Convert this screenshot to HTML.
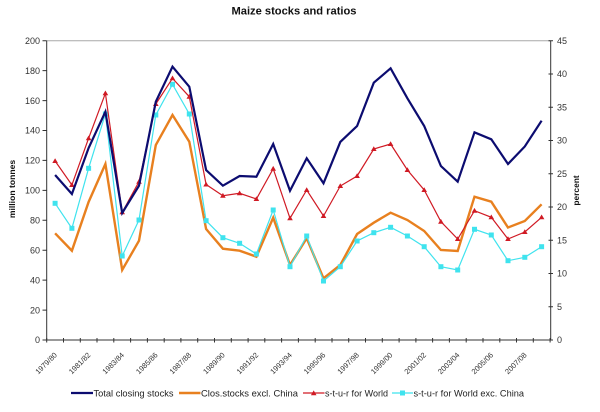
<!DOCTYPE html>
<html>
<head>
<meta charset="utf-8">
<style>
html,body{margin:0;padding:0;background:#fff;}
svg{display:block;}
text{font-family:"Liberation Sans",Arial,sans-serif;}
</style>
</head>
<body>
<svg width="600" height="412" viewBox="0 0 600 412" xmlns="http://www.w3.org/2000/svg">
<rect width="600" height="412" fill="#fff"/>
<!-- title -->
<text x="294" y="14.5" font-size="11" font-weight="bold" text-anchor="middle" fill="#111" textLength="125" lengthAdjust="spacingAndGlyphs">Maize stocks and ratios</text>

<!-- plot top border -->
<line x1="46.7" y1="40.7" x2="550.7" y2="40.7" stroke="#a8a8a8" stroke-width="1"/>

<!-- axes -->
<g stroke="#333" stroke-width="1" fill="none">
<line x1="46.7" y1="40.7" x2="46.7" y2="340"/>
<line x1="550.7" y1="40.7" x2="550.7" y2="340"/>
<line x1="46.7" y1="340" x2="550.7" y2="340"/>
<path d="M42.5 340.0H46.7M42.5 310.1H46.7M42.5 280.1H46.7M42.5 250.2H46.7M42.5 220.3H46.7M42.5 190.4H46.7M42.5 160.4H46.7M42.5 130.5H46.7M42.5 100.6H46.7M42.5 70.6H46.7M42.5 40.7H46.7"/>
<path d="M548.5 340.0H553M548.5 306.7H553M548.5 273.5H553M548.5 240.2H553M548.5 207.0H553M548.5 173.7H553M548.5 140.5H553M548.5 107.2H553M548.5 74.0H553M548.5 40.7H553"/>
<path d="M46.7 338V342.5M63.5 338V342.5M80.3 338V342.5M97.0 338V342.5M113.8 338V342.5M130.6 338V342.5M147.4 338V342.5M164.2 338V342.5M180.9 338V342.5M197.7 338V342.5M214.5 338V342.5M231.3 338V342.5M248.1 338V342.5M264.8 338V342.5M281.6 338V342.5M298.4 338V342.5M315.2 338V342.5M332.0 338V342.5M348.7 338V342.5M365.5 338V342.5M382.3 338V342.5M399.1 338V342.5M415.9 338V342.5M432.6 338V342.5M449.4 338V342.5M466.2 338V342.5M483.0 338V342.5M499.8 338V342.5M516.5 338V342.5M533.3 338V342.5M550.1 338V342.5"/>
</g>

<!-- left labels -->
<g font-size="9" fill="#333" text-anchor="end">
<text x="40" y="343.2">0</text>
<text x="40" y="313.3">20</text>
<text x="40" y="283.3">40</text>
<text x="40" y="253.4">60</text>
<text x="40" y="223.5">80</text>
<text x="40" y="193.6">100</text>
<text x="40" y="163.6">120</text>
<text x="40" y="133.7">140</text>
<text x="40" y="103.8">160</text>
<text x="40" y="73.8">180</text>
<text x="40" y="43.9">200</text>
</g>
<!-- right labels -->
<g font-size="9" fill="#333" text-anchor="start">
<text x="557" y="343.2">0</text>
<text x="557" y="309.9">5</text>
<text x="557" y="276.7">10</text>
<text x="557" y="243.4">15</text>
<text x="557" y="210.2">20</text>
<text x="557" y="176.9">25</text>
<text x="557" y="143.7">30</text>
<text x="557" y="110.4">35</text>
<text x="557" y="77.2">40</text>
<text x="557" y="43.9">45</text>
</g>

<!-- axis titles -->
<text transform="translate(15,189) rotate(-90)" font-size="8.6" font-weight="bold" text-anchor="middle" fill="#111">million tonnes</text>
<text transform="translate(579,190.5) rotate(-90)" font-size="8.4" font-weight="bold" text-anchor="middle" fill="#111">percent</text>

<!-- x labels -->
<g font-size="7.5" fill="#333" text-anchor="end">
<text transform="translate(57.5,355.5) rotate(-45)">1979/80</text>
<text transform="translate(91.0,355.5) rotate(-45)">1981/82</text>
<text transform="translate(124.6,355.5) rotate(-45)">1983/84</text>
<text transform="translate(158.2,355.5) rotate(-45)">1985/86</text>
<text transform="translate(191.7,355.5) rotate(-45)">1987/88</text>
<text transform="translate(225.3,355.5) rotate(-45)">1989/90</text>
<text transform="translate(258.8,355.5) rotate(-45)">1991/92</text>
<text transform="translate(292.4,355.5) rotate(-45)">1993/94</text>
<text transform="translate(325.9,355.5) rotate(-45)">1995/96</text>
<text transform="translate(359.5,355.5) rotate(-45)">1997/98</text>
<text transform="translate(393.0,355.5) rotate(-45)">1999/00</text>
<text transform="translate(426.6,355.5) rotate(-45)">2001/02</text>
<text transform="translate(460.1,355.5) rotate(-45)">2003/04</text>
<text transform="translate(493.7,355.5) rotate(-45)">2005/06</text>
<text transform="translate(527.2,355.5) rotate(-45)">2007/08</text>
</g>

<!-- series: orange -->
<polyline fill="none" stroke="#e8801f" stroke-width="2.4" stroke-linejoin="miter"
points="55.1,233.3 71.9,250.7 88.6,202 105.4,164 122.2,270 139.0,240.7 155.8,145 172.5,115 189.3,141.7 206.1,229 222.9,248.7 239.6,250.7 256.4,256.7 273.2,217.7 290.0,265 306.7,238.3 323.5,278.3 340.3,265 357.1,234 373.8,222.7 390.6,212.7 407.4,220 424.2,231 440.9,250 457.7,251 474.5,196.7 491.3,201.7 508.0,227.5 524.8,221 541.6,204.3"/>

<!-- series: cyan -->
<polyline fill="none" stroke="#3fe3ee" stroke-width="1.2"
points="55.1,203.3 71.9,228.3 88.6,168.3 105.4,114 122.2,256 139.0,220 155.8,115 172.5,84.3 189.3,114 206.1,220.7 222.9,237.7 239.6,243.3 256.4,254 273.2,210 290.0,266.7 306.7,236 323.5,281 340.3,266.7 357.1,241 373.8,232.7 390.6,227.3 407.4,236 424.2,246.7 440.9,266.7 457.7,270 474.5,229.3 491.3,235 508.0,260.7 524.8,257.3 541.6,246.7"/>
<g fill="#3fe3ee">
<rect x="52.6" y="200.8" width="5" height="5"/><rect x="69.4" y="225.8" width="5" height="5"/><rect x="86.1" y="165.8" width="5" height="5"/><rect x="102.9" y="111.5" width="5" height="5"/><rect x="119.7" y="253.5" width="5" height="5"/><rect x="136.5" y="217.5" width="5" height="5"/><rect x="153.3" y="112.5" width="5" height="5"/><rect x="170.0" y="81.8" width="5" height="5"/><rect x="186.8" y="111.5" width="5" height="5"/><rect x="203.6" y="218.2" width="5" height="5"/><rect x="220.4" y="235.2" width="5" height="5"/><rect x="237.1" y="240.8" width="5" height="5"/><rect x="253.9" y="251.5" width="5" height="5"/><rect x="270.7" y="207.5" width="5" height="5"/><rect x="287.5" y="264.2" width="5" height="5"/><rect x="304.2" y="233.5" width="5" height="5"/><rect x="321.0" y="278.5" width="5" height="5"/><rect x="337.8" y="264.2" width="5" height="5"/><rect x="354.6" y="238.5" width="5" height="5"/><rect x="371.3" y="230.2" width="5" height="5"/><rect x="388.1" y="224.8" width="5" height="5"/><rect x="404.9" y="233.5" width="5" height="5"/><rect x="421.7" y="244.2" width="5" height="5"/><rect x="438.4" y="264.2" width="5" height="5"/><rect x="455.2" y="267.5" width="5" height="5"/><rect x="472.0" y="226.8" width="5" height="5"/><rect x="488.8" y="232.5" width="5" height="5"/><rect x="505.5" y="258.2" width="5" height="5"/><rect x="522.3" y="254.8" width="5" height="5"/><rect x="539.1" y="244.2" width="5" height="5"/>
</g>

<!-- series: red -->
<polyline fill="none" stroke="#d01a24" stroke-width="1.2"
points="55.1,161 71.9,185 88.6,138.3 105.4,93.3 122.2,212.3 139.0,181.7 155.8,104 172.5,78.3 189.3,96.7 206.1,184.5 222.9,195.7 239.6,193.3 256.4,199 273.2,168.7 290.0,218.3 306.7,190 323.5,216 340.3,186 357.1,176 373.8,149 390.6,144 407.4,170 424.2,190 440.9,221.7 457.7,239 474.5,210.7 491.3,217.3 508.0,239 524.8,232 541.6,217.3"/>
<g fill="#d01a24">
<path d="M55.1,158.2l2.8,4.8h-5.6z M71.9,182.2l2.8,4.8h-5.6z M88.6,135.5l2.8,4.8h-5.6z M105.4,90.5l2.8,4.8h-5.6z M122.2,209.5l2.8,4.8h-5.6z M139.0,178.9l2.8,4.8h-5.6z M155.8,101.2l2.8,4.8h-5.6z M172.5,75.5l2.8,4.8h-5.6z M189.3,93.9l2.8,4.8h-5.6z M206.1,181.7l2.8,4.8h-5.6z M222.9,192.9l2.8,4.8h-5.6z M239.6,190.5l2.8,4.8h-5.6z M256.4,196.2l2.8,4.8h-5.6z M273.2,165.9l2.8,4.8h-5.6z M290.0,215.5l2.8,4.8h-5.6z M306.7,187.2l2.8,4.8h-5.6z M323.5,213.2l2.8,4.8h-5.6z M340.3,183.2l2.8,4.8h-5.6z M357.1,173.2l2.8,4.8h-5.6z M373.8,146.2l2.8,4.8h-5.6z M390.6,141.2l2.8,4.8h-5.6z M407.4,167.2l2.8,4.8h-5.6z M424.2,187.2l2.8,4.8h-5.6z M440.9,218.9l2.8,4.8h-5.6z M457.7,236.2l2.8,4.8h-5.6z M474.5,207.9l2.8,4.8h-5.6z M491.3,214.5l2.8,4.8h-5.6z M508.0,236.2l2.8,4.8h-5.6z M524.8,229.2l2.8,4.8h-5.6z M541.6,214.5l2.8,4.8h-5.6z"/>
</g>

<!-- series: navy -->
<polyline fill="none" stroke="#0c0c70" stroke-width="2.2" stroke-linejoin="miter"
points="55.1,175 71.9,194 88.6,148 105.4,111.7 122.2,213 139.0,185.7 155.8,101.7 172.5,66.7 189.3,86.7 206.1,170 222.9,185.7 239.6,176 256.4,176.7 273.2,144 290.0,190.7 306.7,158.3 323.5,183.3 340.3,141.9 357.1,126 373.8,82.7 390.6,68.3 407.4,98.3 424.2,126 440.9,166 457.7,181.7 474.5,132.3 491.3,139.3 508.0,164 524.8,146.5 541.6,120.7"/>

<!-- legend -->
<g>
<line x1="71" y1="393" x2="93" y2="393" stroke="#0c0c70" stroke-width="2.2"/>
<text x="93.5" y="396.5" font-size="9.3" fill="#222" textLength="80" lengthAdjust="spacingAndGlyphs">Total closing stocks</text>
<line x1="179" y1="393" x2="200.5" y2="393" stroke="#e8801f" stroke-width="2.4"/>
<text x="201" y="396.5" font-size="9.3" fill="#222" textLength="97" lengthAdjust="spacingAndGlyphs">Clos.stocks excl. China</text>
<line x1="303" y1="393" x2="324.5" y2="393" stroke="#d01a24" stroke-width="1.2"/>
<path d="M313.7,390.4l2.8,4.8h-5.6z" fill="#d01a24"/>
<text x="325" y="396.5" font-size="9.3" fill="#222" textLength="63" lengthAdjust="spacingAndGlyphs">s-t-u-r for World</text>
<line x1="392" y1="393" x2="413" y2="393" stroke="#3fe3ee" stroke-width="1.2"/>
<rect x="400" y="390.5" width="5" height="5" fill="#3fe3ee"/>
<text x="413.5" y="396.5" font-size="9.3" fill="#222" textLength="110.5" lengthAdjust="spacingAndGlyphs">s-t-u-r for World exc. China</text>
</g>
</svg>
</body>
</html>
